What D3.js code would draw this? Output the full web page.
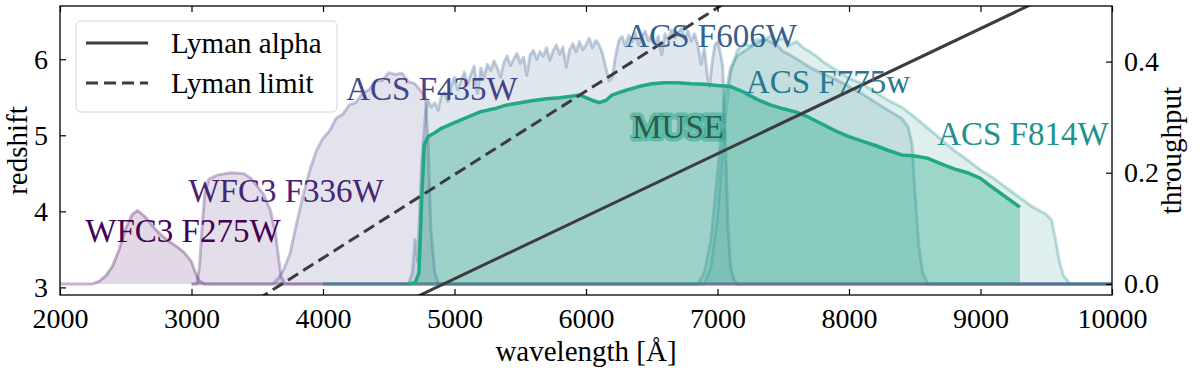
<!DOCTYPE html>
<html>
<head>
<meta charset="utf-8">
<script src="https://cdn.jsdelivr.net/npm/d3@7"></script>
<style>
  body { margin: 0; background: #fff; }
  svg { display: block; }
  text { font-family: "Liberation Serif", "DejaVu Serif", serif; }
</style>
</head>
<body>
<div id="chart"></div>
<script>
// filter throughput curves: [wavelength (Angstrom), throughput]
const f275w = [[2000,0],[2250,0],[2300,0.005],[2350,0.015],[2400,0.032],[2450,0.062],[2500,0.1],[2550,0.125],[2590,0.132],[2650,0.12],
  [2700,0.105],[2750,0.092],[2800,0.082],[2850,0.073],[2900,0.065],[2950,0.055],[3000,0.04],[3030,0.02],[3060,0.005],[3100,0],[10000,0]];
const f336w = [[3000,0],[3040,0],[3060,0.03],[3080,0.1],[3100,0.16],[3130,0.188],[3200,0.196],[3300,0.2],[3400,0.198],[3450,0.19],
  [3500,0.176],[3550,0.16],[3600,0.132],[3640,0.09],[3660,0.05],[3680,0.015],[3710,0],[10000,0]];
const f435w = [[3000,0],[3620,0],[3660,0.01],[3700,0.025],[3750,0.055],[3800,0.11],[3850,0.16],[3900,0.205],[3950,0.24],[4000,0.262],
  [4050,0.275],[4100,0.298],[4150,0.305],[4200,0.322],[4250,0.326],[4300,0.343],[4350,0.349],[4400,0.365],[4450,0.366],[4500,0.38],
  [4550,0.377],[4600,0.379],[4650,0.364],[4700,0.36],[4750,0.345],[4780,0.335],[4800,0.25],[4820,0.1],[4850,0.02],[4880,0],[10000,0]];
const f606w = [[4000,0],[4650,0],[4680,0.02],[4700,0.08],[4720,0.04],[4750,0.22],[4780,0.31],[4800,0.33],[4825,0.318],[4850,0.326],
  [4875,0.312],[4900,0.338],[4925,0.345],[4950,0.328],[4975,0.356],[5000,0.372],[5025,0.349],[5050,0.366],[5075,0.381],[5100,0.36],
  [5125,0.377],[5150,0.392],[5175,0.343],[5200,0.388],[5225,0.372],[5250,0.395],[5275,0.384],[5300,0.401],[5325,0.389],[5350,0.372],
  [5375,0.398],[5400,0.41],[5425,0.393],[5450,0.404],[5475,0.415],[5500,0.397],[5525,0.408],[5550,0.375],[5575,0.412],[5600,0.42],
  [5625,0.404],[5650,0.418],[5675,0.41],[5700,0.425],[5725,0.402],[5750,0.419],[5775,0.43],[5800,0.413],[5825,0.426],[5850,0.39],
  [5875,0.421],[5900,0.432],[5925,0.418],[5950,0.436],[5975,0.421],[6000,0.43],[6025,0.442],[6050,0.425],[6075,0.438],[6100,0.43],
  [6125,0.415],[6150,0.39],[6175,0.365],[6200,0.372],[6225,0.41],[6250,0.438],[6275,0.445],[6300,0.428],[6325,0.447],[6350,0.436],
  [6375,0.452],[6400,0.43],[6425,0.445],[6450,0.455],[6475,0.437],[6500,0.449],[6525,0.431],[6550,0.446],[6575,0.412],[6600,0.45],
  [6625,0.438],[6650,0.457],[6675,0.443],[6700,0.452],[6725,0.46],[6750,0.441],[6775,0.455],[6800,0.437],[6825,0.45],[6850,0.43],
  [6875,0.395],[6900,0.425],[6925,0.37],[6940,0.355],[6960,0.4],[6980,0.43],[7000,0.435],[7020,0.418],[7040,0.39],[7060,0.26],
  [7080,0.1],[7100,0.03],[7130,0.005],[7150,0],[10000,0]];
const f775w = [[4000,0],[6850,0],[6900,0.02],[6950,0.08],[7000,0.2],[7050,0.33],[7100,0.39],[7150,0.41],[7200,0.418],[7250,0.426],
  [7300,0.433],[7350,0.44],[7400,0.436],[7450,0.43],[7500,0.418],[7550,0.412],[7600,0.405],[7700,0.39],[7800,0.378],[7900,0.368],
  [8000,0.355],[8100,0.342],[8200,0.327],[8300,0.312],[8400,0.298],[8450,0.282],[8480,0.25],[8500,0.17],[8530,0.07],[8560,0.02],
  [8600,0],[10000,0]];
const f814w = [[4000,0],[6900,0],[6950,0.03],[7000,0.12],[7050,0.28],[7100,0.38],[7150,0.42],[7200,0.432],[7250,0.428],[7300,0.44],
  [7350,0.437],[7400,0.446],[7450,0.438],[7500,0.442],[7550,0.43],[7600,0.436],[7650,0.425],[7700,0.418],[7750,0.41],[7800,0.4],
  [7900,0.385],[8000,0.37],[8100,0.36],[8200,0.345],[8300,0.33],[8400,0.318],[8500,0.3],[8600,0.28],[8700,0.26],[8800,0.24],
  [8900,0.223],[9000,0.205],[9100,0.19],[9200,0.172],[9300,0.155],[9400,0.138],[9500,0.125],[9540,0.115],[9570,0.08],[9600,0.04],
  [9630,0.015],[9680,0],[10000,0]];
const muse = [[4650,0],[4700,0.002],[4730,0.02],[4750,0.15],[4770,0.25],[4800,0.265],[4850,0.272],[4900,0.28],[5000,0.29],[5100,0.3],
  [5200,0.31],[5300,0.315],[5400,0.322],[5500,0.326],[5600,0.33],[5700,0.333],[5800,0.335],[5900,0.338],[5950,0.34],[6000,0.335],
  [6050,0.33],[6100,0.326],[6150,0.33],[6200,0.34],[6300,0.348],[6400,0.355],[6500,0.36],[6600,0.362],[6700,0.362],[6800,0.36],
  [6900,0.359],[7000,0.357],[7100,0.355],[7200,0.345],[7300,0.332],[7400,0.322],[7500,0.315],[7600,0.309],[7700,0.299],[7800,0.287],
  [7900,0.275],[8000,0.265],[8100,0.257],[8200,0.249],[8300,0.24],[8400,0.232],[8500,0.23],[8600,0.226],[8700,0.216],[8800,0.207],
  [8900,0.2],[9000,0.19],[9100,0.172],[9200,0.155],[9300,0.138]];

const filterNames = ['WFC3 F275W', 'WFC3 F336W', 'ACS F435W', 'ACS F606W', 'ACS F775w', 'ACS F814W'];
const filterCurves = [f275w, f336w, f435w, f606w, f775w, f814w];
// where each filter name sits: [wavelength, throughput] of the text centre/baseline
const labelAt = [[2935,0.075], [3719,0.147], [4829,0.331], [6951,0.426], [7840,0.343], [9323,0.25]];
const museLabelAt = [6700, 0.262];

// Lyman series rest wavelengths (Angstrom) and the wavelength span of the lines
const lymanAlpha = 1215.67;
const lymanLimit = 911.8;
const lineWaves = [2000, 10000];

const xTicks = [2000, 3000, 4000, 5000, 6000, 7000, 8000, 9000, 10000];
const zTicks = [3, 4, 5, 6];
const tTicks = [0, 0.2, 0.4];

const width = 1200, height = 375;
const margin = {top: 6, right: 88, bottom: 80, left: 60};
const innerW = width - margin.left - margin.right;
const innerH = height - margin.top - margin.bottom;

const svg = d3.select('#chart').append('svg')
  .attr('width', width)
  .attr('height', height);

const x = d3.scaleLinear().domain([2000, 10000]).range([margin.left, margin.left + innerW]);
const yZ = d3.scaleLinear().domain([2.9, 6.7]).range([margin.top + innerH, margin.top]);
const yT = d3.scaleLinear().domain([-0.02, 0.5]).range([margin.top + innerH, margin.top]);

svg.append('clipPath').attr('id', 'plot-clip')
  .append('rect')
  .attr('x', margin.left).attr('y', margin.top)
  .attr('width', innerW).attr('height', innerH);

const plot = svg.append('g').attr('clip-path', 'url(#plot-clip)');

const color = i => d3.interpolateViridis(i / 10);

const area = d3.area()
  .x(d => x(d[0]))
  .y0(yT(0))
  .y1(d => yT(d[1]));
const curve = d3.line()
  .x(d => x(d[0]))
  .y(d => yT(d[1]));

filterCurves.forEach((data, i) => {
  plot.append('path')
    .datum(data)
    .attr('d', area)
    .attr('fill', color(i))
    .attr('fill-opacity', 0.15);
  plot.append('path')
    .datum(data)
    .attr('d', curve)
    .attr('fill', 'none')
    .attr('stroke', color(i))
    .attr('stroke-opacity', 0.3)
    .attr('stroke-width', 3)
    .attr('stroke-linejoin', 'round');
});

// MUSE
const museColor = color(6);
plot.append('path')
  .datum(muse)
  .attr('d', area)
  .attr('fill', museColor)
  .attr('fill-opacity', 0.35);
plot.append('path')
  .datum(muse)
  .attr('d', curve)
  .attr('fill', 'none')
  .attr('stroke', museColor)
  .attr('stroke-width', 3.5)
  .attr('stroke-linejoin', 'round');

// filter names
filterNames.forEach((name, i) => {
  svg.append('text')
    .attr('x', x(labelAt[i][0]))
    .attr('y', yT(labelAt[i][1]))
    .attr('text-anchor', 'middle')
    .attr('font-size', 33)
    .attr('fill', color(i))
    .text(name);
});

const museText = svg.append('g')
  .attr('transform', `translate(${x(museLabelAt[0])},${yT(museLabelAt[1])})`);
museText.append('text')
  .attr('text-anchor', 'middle')
  .attr('font-size', 33)
  .attr('fill', 'none')
  .attr('stroke', museColor)
  .attr('stroke-opacity', 0.5)
  .attr('stroke-width', 7)
  .attr('stroke-linejoin', 'round')
  .text('MUSE');
museText.append('text')
  .attr('text-anchor', 'middle')
  .attr('font-size', 33)
  .attr('fill', '#2b5a50')
  .text('MUSE');

// Lyman alpha / limit redshift lines
const zLine = d3.line()
  .x(d => x(d[0]))
  .y(d => yZ(d[1]));
plot.append('path')
  .datum(lineWaves.map(w => [w, w / lymanAlpha - 1]))
  .attr('d', zLine)
  .attr('fill', 'none')
  .attr('stroke', '#3c3c3c')
  .attr('stroke-width', 3);
plot.append('path')
  .datum(lineWaves.map(w => [w, w / lymanLimit - 1]))
  .attr('d', zLine)
  .attr('fill', 'none')
  .attr('stroke', '#3c3c3c')
  .attr('stroke-width', 3)
  .attr('stroke-dasharray', '12,6');

// axes
const axisBottomG = svg.append('g')
  .attr('transform', `translate(0,${margin.top + innerH})`)
  .call(d3.axisBottom(x).tickValues(xTicks).tickFormat(d3.format('d'))
    .tickSizeInner(-6).tickSizeOuter(0).tickPadding(13));
const axisTopG = svg.append('g')
  .attr('transform', `translate(0,${margin.top})`)
  .call(d3.axisTop(x).tickValues(xTicks).tickFormat('')
    .tickSizeInner(-6).tickSizeOuter(0));
const axisLeftG = svg.append('g')
  .attr('transform', `translate(${margin.left},0)`)
  .call(d3.axisLeft(yZ).tickValues(zTicks).tickFormat(d3.format('d'))
    .tickSizeInner(-6).tickSizeOuter(0).tickPadding(12));
const axisRightG = svg.append('g')
  .attr('transform', `translate(${margin.left + innerW},0)`)
  .call(d3.axisRight(yT).tickValues(tTicks).tickFormat(d3.format('.1f'))
    .tickSizeInner(-6).tickSizeOuter(0).tickPadding(12));

[axisBottomG, axisTopG, axisLeftG, axisRightG].forEach(g => {
  g.select('.domain').remove();
  g.selectAll('.tick line').attr('stroke', '#000').attr('stroke-width', 1.2);
  g.selectAll('.tick text')
    .attr('font-family', '"Liberation Serif", serif')
    .attr('font-size', 28)
    .attr('fill', '#000');
});

svg.append('rect')
  .attr('x', margin.left).attr('y', margin.top)
  .attr('width', innerW).attr('height', innerH)
  .attr('fill', 'none')
  .attr('stroke', '#000')
  .attr('stroke-width', 1.3);

svg.append('text')
  .attr('transform', `translate(27,${margin.top + innerH / 2}) rotate(-90)`)
  .attr('text-anchor', 'middle')
  .attr('font-size', 29)
  .text('redshift');
svg.append('text')
  .attr('transform', `translate(1181,${margin.top + innerH / 2}) rotate(-90)`)
  .attr('text-anchor', 'middle')
  .attr('font-size', 29)
  .text('throughput');
svg.append('text')
  .attr('x', margin.left + innerW / 2)
  .attr('y', 361)
  .attr('text-anchor', 'middle')
  .attr('font-size', 29)
  .text('wavelength [Å]');

// legend
const legend = svg.append('g').attr('transform', 'translate(76,21)');
legend.append('rect')
  .attr('width', 261).attr('height', 91)
  .attr('rx', 5)
  .attr('fill', '#fff').attr('fill-opacity', 0.8)
  .attr('stroke', '#d6d6d6').attr('stroke-width', 1);
const legendItems = [['Lyman alpha', null], ['Lyman limit', '12,6']];
legendItems.forEach(([label, dash], i) => {
  const yy = 22 + i * 40;
  legend.append('line')
    .attr('x1', 10).attr('x2', 72)
    .attr('y1', yy).attr('y2', yy)
    .attr('stroke', '#3c3c3c')
    .attr('stroke-width', 3)
    .attr('stroke-dasharray', dash);
  legend.append('text')
    .attr('x', 95).attr('y', yy + 10)
    .attr('font-size', 29)
    .text(label);
});
</script>
</body>
</html>
